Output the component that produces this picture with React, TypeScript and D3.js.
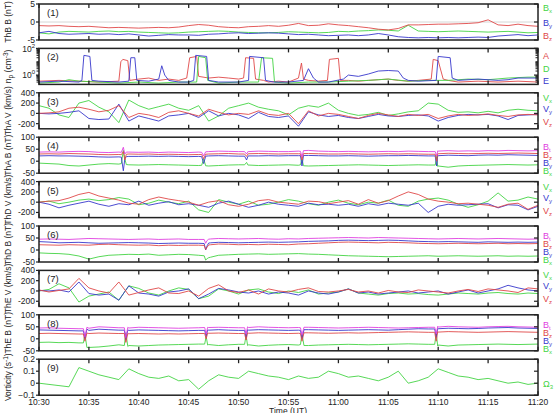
import React from 'react';
import * as d3 from 'd3';

// ---------- data ----------
const TIME_LABELS = ['10:30','10:35','10:40','10:45','10:50','10:55','11:00','11:05','11:10','11:15','11:20'];
const TIME_TICKS = [0,5,10,15,20,25,30,35,40,45,50]; // minutes after 10:30
const GRID = [0,1,2,3,4,5,6,7,8,9,10,11,12,13,14,15,16,17,18,19,20,21,22,23,24,25,26,27,28,29,30,31,32,33,34,35,36,37,38,39,40,41,42,43,44,45,46,47,48,49,50];

// Panel 1: ThB B (nT)
const thbBx = [-3.0,-3.3,-2.8,-2.6,-2.7,-2.8,-2.6,-2.5,-2.7,-2.6,-2.8,-2.9,-3.0,-3.1,-3.0,-2.8,-2.7,-2.6,-2.5,-2.6,-2.8,-2.9,-3.0,-3.0,-2.9,-2.7,-2.8,-2.9,-3.0,-2.9,-2.6,-2.7,-2.5,-2.4,-2.2,-2.3,-2.5,-0.9,-2.5,-2.6,-2.7,-2.6,-2.5,-2.6,-2.7,-2.8,-2.7,-2.6,-2.8,-3.0,-2.9];
const thbBy = [-3.0,-2.6,-3.2,-3.4,-3.3,-3.2,-3.4,-3.3,-3.5,-3.3,-3.6,-3.9,-3.7,-3.5,-3.6,-3.6,-3.7,-3.4,-3.3,-3.1,-3.0,-3.2,-3.1,-3.0,-3.1,-3.3,-3.5,-3.4,-3.6,-3.8,-3.7,-3.6,-3.8,-3.6,-3.2,-3.6,-4.1,-4.3,-4.4,-4.3,-4.4,-4.3,-4.4,-4.3,-4.2,-4.3,-3.9,-3.7,-3.5,-3.8,-3.6];
const thbBz = [-1.0,-1.1,-1.0,-1.2,-1.3,-1.2,-1.4,-1.6,-1.5,-1.6,-1.7,-1.6,-1.5,-1.6,-1.4,-1.0,-0.7,-0.9,-1.3,-1.5,-1.6,-1.3,-1.2,-1.0,-1.2,-0.9,-0.4,-1.0,-0.9,-0.5,-0.8,-1.0,-1.3,-1.6,-2.0,-2.2,-1.8,-0.8,-0.8,-0.7,-0.6,-0.6,-0.5,-0.4,-0.2,0.6,-0.8,-1.0,-0.6,-1.0,-1.2];

// Panel 2: density (cm^-3), [minute, value]
const npA: [number, number][] = [[0,0.35],[2,0.4],[4,0.35],[6,0.3],[8,0.35],[8.2,10],[8.4,15],[8.9,12],[9.1,0.4],[10,0.5],[11,0.6],[12,0.4],[13,0.5],[14,0.4],[14.8,0.6],[15.1,20],[15.8,25],[16.0,0.8],[17,0.6],[18,0.7],[19,0.6],[20,0.5],[20.5,0.6],[20.7,20],[21.5,18],[21.7,0.5],[22.5,0.4],[23,0.3],[24,0.35],[25,0.3],[26,0.6],[26.3,8],[26.5,0.5],[27,0.4],[28,0.35],[28.9,0.4],[29.1,15],[30.0,18],[30.2,0.4],[31,0.4],[32,0.35],[33,0.4],[34,0.45],[35,0.5],[36,0.4],[37,0.35],[38,0.4],[39.3,0.5],[39.5,15],[40,12],[40.5,0.5],[41,0.4],[42,0.3],[44,0.35],[46,0.3],[48,0.35],[50,0.3]];
const npD: [number, number][] = [[0,0.25],[2,0.3],[3,0.45],[4,0.35],[6,0.3],[8,0.25],[10,0.3],[12,0.25],[14,0.3],[15.8,0.3],[16.0,25],[16.7,20],[16.9,0.4],[18,0.25],[20,0.3],[22,0.3],[22.3,20],[23.4,18],[23.6,0.3],[25,0.25],[27,0.3],[29,0.3],[31,0.35],[33,0.4],[35,0.5],[37,0.35],[39,0.4],[41,0.4],[43,0.5],[45,0.45],[47,0.6],[49,0.7],[50,0.7]];
const npE: [number, number][] = [[0,0.3],[2,0.35],[4,0.3],[4.3,0.4],[4.5,30],[5.1,25],[5.3,0.4],[6,0.35],[8,0.3],[9,0.35],[9.2,20],[9.6,20],[9.8,0.4],[11,0.35],[12,0.5],[12.3,5],[12.6,1],[13,0.4],[14,0.3],[15,0.3],[15.5,0.4],[15.7,30],[16.8,25],[17,0.4],[18,0.3],[20,0.3],[21,0.4],[21.1,25],[22.5,20],[22.7,0.4],[23.5,0.3],[25,0.3],[26.5,0.4],[27,3],[27.5,0.6],[28,0.3],[29,0.3],[30.5,0.5],[31,1],[32,0.8],[33,1.2],[34,2],[35,2.2],[36,2],[36.5,0.6],[37,0.4],[38,0.35],[39.8,0.4],[40,25],[41.2,20],[41.4,0.6],[42,0.4],[44,0.5],[46,0.4],[47,0.45],[48,0.6],[50,0.6]];

// Panel 3: ThA V (km/s)
const thaVx = [150,100,-30,-80,200,250,120,30,-180,260,150,80,130,180,100,60,150,-150,-50,100,150,200,120,80,50,-30,100,150,120,200,60,0,-40,-20,20,-40,-10,30,50,200,180,60,20,30,10,40,10,60,80,60,50];
const thaVy = [0,-10,0,20,50,-100,-120,-110,180,-150,-50,-100,-150,-50,-30,0,-80,50,-50,0,-30,-100,20,-60,-80,-50,-250,30,-30,-60,-40,-80,-100,-60,-20,-50,-60,-40,-30,-50,-150,-80,-40,-20,-30,-20,-50,-120,-40,-30,-20];
const thaVz = [0,10,30,100,120,80,30,60,150,-80,0,-30,-80,20,50,0,-50,80,20,-30,0,-20,50,-20,-40,0,-200,50,-50,0,-20,-60,-100,-40,0,-30,-60,-20,-40,-20,-100,-50,-20,-40,-30,-10,-40,-60,-30,-20,-30];

// Panel 4: ThA B (nT) — one-minute samples plus short-lived dips
const thaBt = [38,39,38,40,41,40,37,36,38,38,37,38,36,38,37,36,38,40,42,41,40,40,42,41,40,40,42,45,42,41,40,41,40,39,40,41,40,42,41,40,42,44,42,43,42,44,43,45,44,43,44];
const thaBz = [30,31,30,32,31,30,28,27,28,30,29,30,28,29,28,27,28,30,31,32,30,31,32,31,30,31,31,32,31,30,30,31,30,29,30,31,30,31,30,29,31,33,32,31,32,33,32,33,34,33,32];
const thaBy = [22,23,22,22,21,20,18,17,18,20,20,21,20,21,20,19,20,22,23,22,21,22,22,23,22,23,23,24,23,22,22,23,22,21,22,23,23,24,23,22,23,25,24,23,25,26,25,27,26,25,24];
const thaBx = [-8,-10,-12,-18,-20,-16,-12,-10,-12,-15,-16,-15,-14,-15,-16,-17,-18,-20,-18,-16,-15,-16,-18,-17,-16,-15,-17,-20,-19,-18,-17,-16,-15,-16,-17,-18,-17,-16,-15,-16,-20,-25,-20,-18,-17,-16,-15,-14,-15,-16,-15];
const thaEvT = [8.25,8.45,8.6,8.75,16.3,16.5,16.7,20.6,20.8,20.95,26.2,26.35,26.5,39.7,39.85,39.95];
const thaBtEv = [37,58,30,38,37,22,39,40,30,41,41,18,44,40,22,43];
const thaBzEv = [27,40,5,29,28,10,29,30,20,31,31,5,32,29,0,32];
const thaByEv = [17,-40,10,19,19,-10,21,21,5,22,23,-20,24,22,-20,24];
const thaBxEv = [-10,45,10,-14,-17,10,-19,-15,-5,-17,-15,10,-19,-16,20,-22];

// Panel 5: ThD V (km/s)
const thdVx = [0,20,-30,0,40,60,30,50,90,60,-50,-20,40,0,-30,20,-150,-200,50,0,-40,20,-60,-40,0,50,20,-30,-60,0,40,-20,-50,0,-20,40,-60,-80,20,60,80,40,-40,-100,-50,20,180,20,40,100,60];
const thdVy = [0,-40,-110,-60,-20,20,-40,-80,-30,-50,20,-60,-20,10,-50,-30,-60,-100,-20,20,-40,-100,-60,0,-40,-60,-80,-20,-50,-40,-60,-40,-80,-30,-60,-20,-40,-60,-20,-200,-80,-40,-60,-50,-40,-30,-110,-50,-60,-150,-80];
const thdVz = [0,20,30,80,150,190,120,80,40,-20,-40,50,100,60,30,0,-60,0,30,-50,-80,-40,30,50,0,-20,-40,20,10,-30,0,30,-40,50,-20,30,120,200,150,60,20,0,-30,-20,-40,-60,-100,-40,-20,-140,-60];

// Panel 6: ThD B (nT)
const thdBt = [45,46,45,44,46,48,47,46,45,44,45,46,44,45,46,44,44,45,48,47,46,47,48,46,45,47,46,48,49,50,51,52,51,50,52,51,50,49,48,47,46,47,48,47,46,47,48,47,46,45,46];
const thdBz = [22,21,20,22,21,20,23,24,22,21,20,21,18,20,19,20,20,21,25,24,22,23,22,24,23,22,25,26,28,30,32,33,32,31,30,32,31,30,28,27,26,27,28,27,26,27,28,26,27,26,27];
const thdBy = [35,33,30,31,32,30,28,29,30,31,30,29,27,28,29,28,28,29,32,31,30,31,32,33,32,33,34,36,37,38,40,41,40,39,40,41,40,38,36,35,34,35,34,33,32,34,33,32,33,32,33];
const thdBx = [-12,-14,-15,-18,-25,-38,-28,-22,-20,-18,-19,-17,-22,-20,-18,-19,-22,-32,-22,-20,-18,-17,-16,-18,-17,-16,-15,-17,-18,-20,-22,-24,-25,-26,-27,-28,-27,-26,-25,-24,-26,-25,-24,-25,-26,-25,-24,-26,-25,-26,-25];
const thdEvT = [16.55,16.7,16.85,17.2];
const thdBtEv = [44,28,40,46];
const thdBzEv = [19,2,12,22];
const thdByEv = [27,0,18,30];
const thdBxEv = [-24,-42,-36,-30];

// Panel 7: ThE V (km/s)
const theVx = [0,30,140,60,-215,-100,-60,-20,-180,100,50,-40,-80,0,60,30,-150,-100,40,0,-60,20,40,-20,-50,0,-30,20,-60,-40,-20,40,-40,-60,-80,-50,-40,-60,-50,-70,-80,-60,-40,-50,-60,-40,-30,-50,-60,-40,-50];
const theVy = [10,0,20,-20,175,-50,-80,-60,-180,100,-40,-60,-100,-20,0,40,-150,-60,50,20,-20,-40,0,-60,-20,-40,-80,0,-40,-60,-20,40,-40,-20,-60,-40,-20,0,-40,-20,0,-60,-20,20,-40,0,40,110,60,20,0];
const theVz = [20,-20,10,40,245,60,0,-40,175,-80,-30,20,60,-40,-50,0,-100,50,120,0,-30,20,-60,40,0,-20,30,60,-10,-20,0,30,-20,0,-40,10,-20,-30,20,0,-20,-40,0,30,-10,40,20,0,-30,60,40];

// Panel 8: ThE B (nT)
const theBt = [45,46,44,43,42,44,50,48,46,45,48,47,46,45,44,45,46,47,48,47,46,47,50,48,47,46,47,48,47,46,45,46,47,48,47,46,45,46,47,48,49,52,50,49,48,50,51,52,50,49,48];
const theBy = [37,36,35,34,33,35,40,38,36,35,37,36,35,34,33,34,35,36,38,36,35,36,38,37,36,35,36,38,37,36,35,36,37,38,37,36,38,40,42,41,42,44,43,42,43,45,46,47,45,44,43];
const theBz = [22,23,22,21,20,22,24,23,22,21,22,21,20,21,20,21,22,23,24,23,22,23,25,24,23,22,23,25,24,23,24,25,24,25,26,27,28,29,28,27,28,30,29,28,27,28,29,30,29,28,27];
const theBx = [-15,-14,-16,-15,-17,-36,-34,-30,-25,-28,-30,-28,-26,-25,-24,-23,-22,-24,-28,-25,-23,-25,-30,-27,-25,-24,-26,-28,-26,-25,-24,-23,-24,-25,-24,-23,-22,-21,-22,-23,-26,-30,-26,-25,-24,-23,-22,-23,-24,-23,-22];
const theEvT = [4.45,4.6,4.8,8.55,8.7,8.9,16.6,16.75,16.9,20.6,20.75,20.9,26.2,26.35,26.55,39.65,39.8,39.95];
const theBtEv = [42,8,48,46,5,48,47,20,48,46,20,50,46,15,48,48,20,52];
const theByEv = [33,0,40,36,-5,37,35,10,37,35,5,38,35,0,38,41,5,44];
const theBzEv = [20,-10,24,22,-15,22,22,0,24,22,-5,25,22,-10,25,27,-10,30];
const theBxEv = [-17,20,-36,-28,25,-32,-22,10,-26,-23,15,-28,-24,20,-28,-23,25,-30];

// Panel 9: vorticity (s^-1)
const vort = [0,-0.01,-0.02,-0.03,0.13,0.1,0.07,0.05,0.03,0.12,0.08,0.05,0.04,0.06,0.02,0.03,-0.05,0.02,0.07,0.05,0.04,0.1,0.08,0.06,0.05,0.03,0.06,0.04,0.05,0.1,0.08,0.05,0.06,0.04,0.02,0.05,0.1,0.0,0.02,0.05,0.12,0.09,0.06,0.05,0.03,0.04,0.02,0.0,0.01,-0.01,0.0];

// ---------- style ----------
const RED = '#e04848';
const GREEN = '#44d444';
const BLUE = '#3838cc';
const MAG = '#e040e0';
const FONT = '"Liberation Sans", Arial, sans-serif';

const X0 = 39, X1 = 538;
const PANEL_TOP = 4, PANEL_PITCH = 44.4, PANEL_H = 36;

type Series = { color: string; pts: [number, number][] };
type Leg = { base: string; sub: string; color: string; y: number };
type Panel = {
  label: string; ylabel: React.ReactNode; log?: boolean; domain: [number, number];
  ticks: number[]; series: Series[]; legend: Leg[]; zeroLine?: boolean;
};

const grid = (vals: number[]): [number, number][] => vals.map((v, i) => [GRID[i], v]);
const withEvents = (vals: number[], evT: number[], evV: number[]): [number, number][] =>
  [...grid(vals), ...evT.map((t, i) => [t, evV[i]] as [number, number])].sort((a, b) => a[0] - b[0]);

const vLegend = (): Leg[] => [
  { base: 'V', sub: 'x', color: GREEN, y: 4 },
  { base: 'V', sub: 'y', color: BLUE, y: 15 },
  { base: 'V', sub: 'z', color: RED, y: 28 },
];
const bLegend = (): Leg[] => [
  { base: 'B', sub: 't', color: MAG, y: 9 },
  { base: 'B', sub: 'z', color: RED, y: 17 },
  { base: 'B', sub: 'y', color: BLUE, y: 25 },
  { base: 'B', sub: 'x', color: GREEN, y: 33 },
];

const PANELS: Panel[] = [
  { label: '(1)', ylabel: 'ThB B (nT)', domain: [-5, 5], ticks: [5, 0, -5], zeroLine: true,
    series: [{ color: GREEN, pts: grid(thbBx) }, { color: BLUE, pts: grid(thbBy) }, { color: RED, pts: grid(thbBz) }],
    legend: [{ base: 'B', sub: 'x', color: GREEN, y: 3 }, { base: 'B', sub: 'y', color: BLUE, y: 18 }, { base: 'B', sub: 'z', color: RED, y: 31 }] },
  { label: '(2)', ylabel: <>n<tspan dy="2" fontSize="6.5">p</tspan><tspan dy="-2"> (cm</tspan><tspan dy="-3" fontSize="6.5">-3</tspan><tspan dy="3">)</tspan></>, log: true, domain: [0.2, 100], ticks: [100, 1],
    series: [{ color: RED, pts: npA }, { color: GREEN, pts: npD }, { color: BLUE, pts: npE }],
    legend: [{ base: 'A', sub: '', color: RED, y: 7 }, { base: 'D', sub: '', color: GREEN, y: 20 }, { base: 'E', sub: '', color: BLUE, y: 32 }] },
  { label: '(3)', ylabel: 'ThA V (km/s)', domain: [-300, 400], ticks: [400, 200, 0, -200],
    series: [{ color: GREEN, pts: grid(thaVx) }, { color: BLUE, pts: grid(thaVy) }, { color: RED, pts: grid(thaVz) }], legend: vLegend() },
  { label: '(4)', ylabel: 'ThA B (nT)', domain: [-50, 100], ticks: [100, 50, 0, -50],
    series: [
      { color: GREEN, pts: withEvents(thaBx, thaEvT, thaBxEv) },
      { color: BLUE, pts: withEvents(thaBy, thaEvT, thaByEv) },
      { color: RED, pts: withEvents(thaBz, thaEvT, thaBzEv) },
      { color: MAG, pts: withEvents(thaBt, thaEvT, thaBtEv) }], legend: bLegend() },
  { label: '(5)', ylabel: 'ThD V (km/s)', domain: [-300, 400], ticks: [400, 200, 0, -200],
    series: [{ color: GREEN, pts: grid(thdVx) }, { color: BLUE, pts: grid(thdVy) }, { color: RED, pts: grid(thdVz) }], legend: vLegend() },
  { label: '(6)', ylabel: 'ThD B (nT)', domain: [-50, 100], ticks: [100, 50, 0, -50],
    series: [
      { color: GREEN, pts: withEvents(thdBx, thdEvT, thdBxEv) },
      { color: BLUE, pts: withEvents(thdBy, thdEvT, thdByEv) },
      { color: RED, pts: withEvents(thdBz, thdEvT, thdBzEv) },
      { color: MAG, pts: withEvents(thdBt, thdEvT, thdBtEv) }], legend: bLegend() },
  { label: '(7)', ylabel: 'ThE V (km/s)', domain: [-300, 400], ticks: [400, 200, 0, -200],
    series: [{ color: GREEN, pts: grid(theVx) }, { color: BLUE, pts: grid(theVy) }, { color: RED, pts: grid(theVz) }], legend: vLegend() },
  { label: '(8)', ylabel: 'ThE B (nT)', domain: [-50, 100], ticks: [100, 50, 0, -50],
    series: [
      { color: GREEN, pts: withEvents(theBx, theEvT, theBxEv) },
      { color: BLUE, pts: withEvents(theBy, theEvT, theByEv) },
      { color: RED, pts: withEvents(theBz, theEvT, theBzEv) },
      { color: MAG, pts: withEvents(theBt, theEvT, theBtEv) }], legend: bLegend() },
  { label: '(9)', ylabel: <>Vorticity (s<tspan dy="-3" fontSize="6.5">-1</tspan><tspan dy="3">)</tspan></>, domain: [-0.1, 0.2], ticks: [0.2, 0.1, 0, -0.1],
    series: [{ color: GREEN, pts: grid(vort) }],
    legend: [{ base: 'Ω', sub: '3', color: GREEN, y: 24 }] },
];

export default function App() {
  const x = d3.scaleLinear().domain([0, 50]).range([X0, X1]);
  return (
    <svg width={560} height={413} style={{ position: 'absolute', left: 0, top: 0, background: '#fff' }} fontFamily={FONT}>
      <defs>
        {PANELS.map((p, i) => {
          const top = PANEL_TOP + i * PANEL_PITCH;
          return (
            <clipPath id={`clip${i}`} key={i}>
              <rect x={X0} y={top} width={X1 - X0} height={PANEL_H} />
            </clipPath>
          );
        })}
      </defs>
      {PANELS.map((p, i) => {
        const top = PANEL_TOP + i * PANEL_PITCH;
        const bot = top + PANEL_H;
        const y: any = p.log
          ? d3.scaleLog().domain(p.domain).range([bot, top])
          : d3.scaleLinear().domain(p.domain).range([bot, top]);
        const line = d3.line<[number, number]>().x(d => x(d[0])).y(d => y(d[1]));
        const fmt = (v: number) => (Math.abs(v) < 1 && v !== 0 ? d3.format('.1f')(v) : String(v));
        const minor: number[] = p.log ? [0.3,0.4,0.5,0.6,0.7,0.8,0.9,2,3,4,5,6,7,8,9,10,20,30,40,50,60,70,80,90] : [];
        return (
          <g key={i}>
            {p.zeroLine && <line x1={X0} x2={X1} y1={y(0)} y2={y(0)} stroke="#ccc" strokeWidth={0.8} />}
            <g clipPath={`url(#clip${i})`}>
              {p.series.map((s, j) => (
                <path key={j} d={line(s.pts) || ''} fill="none" stroke={s.color} strokeWidth={0.9} />
              ))}
            </g>
            <rect x={X0} y={top} width={X1 - X0} height={PANEL_H} fill="none" stroke="#222" strokeWidth={1.5} />
            {TIME_TICKS.map(t => (
              <g key={t}>
                <line x1={x(t)} x2={x(t)} y1={top} y2={top + 4} stroke="#222" strokeWidth={1.3} />
                <line x1={x(t)} x2={x(t)} y1={bot} y2={bot - 4} stroke="#222" strokeWidth={1.3} />
              </g>
            ))}
            {p.ticks.map(v => (
              <g key={v}>
                <line x1={X0 - 3} x2={X0} y1={y(v)} y2={y(v)} stroke="#222" strokeWidth={1.2} />
                <line x1={X1 - 4} x2={X1} y1={y(v)} y2={y(v)} stroke="#222" strokeWidth={1.2} />
                {p.log ? (
                  <text x={X0 - 4} y={y(v) + (v === 100 ? 4 : 3)} textAnchor="end" fontSize={8.5} fill="#222">10<tspan dy={-4} fontSize={6}>{Math.round(Math.log10(v))}</tspan></text>
                ) : (
                  <text x={X0 - 4} y={y(v) + 3} textAnchor="end" fontSize={8.5} fill="#222">{fmt(v)}</text>
                )}
              </g>
            ))}
            {minor.map(v => (
              <g key={'m' + v}>
                <line x1={X0 - 2.5} x2={X0} y1={y(v)} y2={y(v)} stroke="#222" strokeWidth={1} />
                <line x1={X1 - 2.5} x2={X1} y1={y(v)} y2={y(v)} stroke="#222" strokeWidth={1} />
              </g>
            ))}
            <text x={47} y={top + 12} fontSize={9.5} fill="#222">{p.label}</text>
            <text transform={`translate(11,${top + PANEL_H / 2}) rotate(-90)`} textAnchor="middle" fontSize={8.5} fill="#222">{p.ylabel}</text>
            {p.legend.map((l, k) => (
              <text key={k} x={543} y={top + l.y + 4} fontSize={9} fill={l.color}>
                {l.base}
                {l.sub && <tspan dy={2} fontSize={6}>{l.sub}</tspan>}
              </text>
            ))}
          </g>
        );
      })}
      {TIME_TICKS.map((t, k) => (
        <text key={t} x={x(t)} y={405} textAnchor="middle" fontSize={8.5} fill="#222">{TIME_LABELS[k]}</text>
      ))}
      <text x={288} y={414} textAnchor="middle" fontSize={8.5} fill="#222">Time (UT)</text>
    </svg>
  );
}
